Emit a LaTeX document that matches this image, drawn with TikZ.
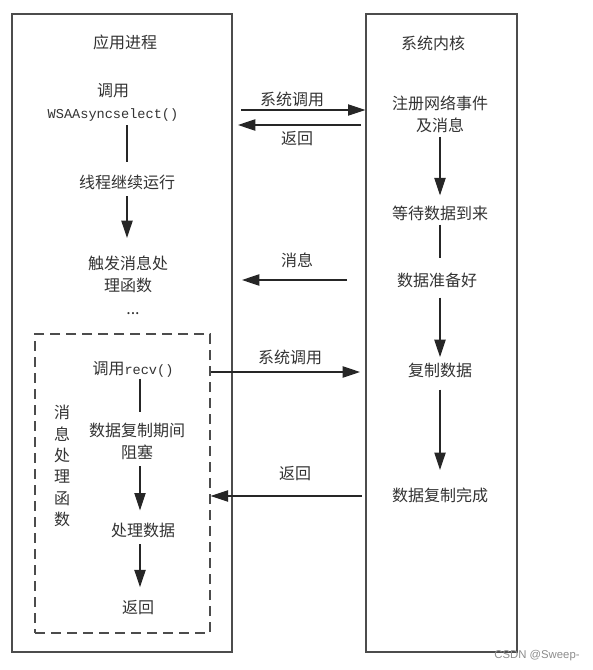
\documentclass[tikz,border=0pt]{standalone}
\usepackage{fontspec}
\usetikzlibrary{arrows.meta}
\newfontfamily\cjk{Noto Sans CJK SC}
\newfontfamily\mono{Liberation Mono}
\newfontfamily\wmark{Liberation Sans}
\newcommand\codetxt[1]{{\mono\fontsize{10.2}{16.5}\selectfont #1}}

\begin{document}
\begin{tikzpicture}[x=0.75pt, y=-0.75pt,
    box/.style={draw=black!70, line width=1pt, inner sep=0pt},
    dashbox/.style={box, dash pattern=on 7.5pt off 4.5pt},
    txt/.style={font=\cjk\fontsize{12}{16.5}\selectfont, text=black!80, align=center, inner sep=0pt},
    flow/.style={draw=black!85, line width=0.8pt, -{Triangle[length=13pt,width=8.5pt]}},
    link/.style={draw=black!85, line width=0.8pt}]
\useasboundingbox (0,0) rectangle (592,670);

% frames
\node[box, minimum width=165pt, minimum height=478.5pt] (app) at (122,333) {};
\node[box, minimum width=113.25pt, minimum height=478.5pt] (kern) at (441.5,333) {};
\node[dashbox, minimum width=131.25pt, minimum height=224.25pt] (handler) at (122.5,483.5) {};

% application process
\node[txt] (apptitle) at (125,42) {应用进程};
\node[txt] (call) at (113,102) {调用\\\codetxt{WSAAsyncselect()}};
\node[txt] (run) at (127,182) {线程继续运行};
\node[txt] (trig) at (128,274) {触发消息处\\理函数};
\node[txt] (dots) at (133,314) {...};

% message handler
\coordinate (hx) at (140,0);
\node[txt] (recv) at (133,369) {调用\codetxt{recv()}};
\node[txt] (block) at (137,441) {数据复制期间\\阻塞};
\node[txt] (proc) at (143,530) {处理数据};
\node[txt] (ret) at (138,608) {返回};
\node[txt, font=\cjk\fontsize{12}{16}\selectfont] (hname) at (62,466) {消\\息\\处\\理\\函\\数};

% kernel
\node[txt] (kerntitle) at (433,43) {系统内核};
\node[txt] (reg) at (440,114) {注册网络事件\\及消息};
\node[txt] (wait) at (440,213) {等待数据到来};
\node[txt] (ready) at (437,280) {数据准备好};
\node[txt] (copy) at (440,370) {复制数据};
\node[txt] (done) at (440,495) {数据复制完成};

% flow in the columns
\draw[link, shorten <=3pt, shorten >=9pt] (call.south -| run) -- (run.north);
\draw[flow, shorten <=5pt, shorten >=13pt] (run.south) -- (run.south |- trig.north);
\draw[link, shorten <=1pt, shorten >=7.5pt] (recv.south -| hx) -- (block.north -| hx);
\draw[flow, shorten <=5pt, shorten >=9pt] (block.south -| hx) -- (proc.north -| hx);
\draw[flow, shorten <=5pt, shorten >=10pt] (proc.south -| hx) -- (ret.north -| hx);
\draw[flow, shorten <=3pt, shorten >=7.5pt] (reg.south) -- (wait.north);
\draw[link, shorten <=3pt, shorten >=11pt] (wait.south) -- (wait.south |- ready.north);
\draw[flow, shorten <=7.5pt, shorten >=4pt] (ready.south -| copy) -- (copy.north);
\draw[flow, shorten <=9pt, shorten >=13pt] (copy.south) -- (done.north);

% calls between process and kernel
\coordinate (c1) at (241,110);
\coordinate (r1a) at (361,125);
\coordinate (r1b) at (238,125);
\coordinate (m1a) at (347,280);
\coordinate (m1b) at (242,280);
\coordinate (c2) at (360,372);
\coordinate (r2) at (362,496);
\draw[flow] (c1) -- (c1 -| kern.west);
\draw[flow] (r1a) -- (r1b);
\draw[flow] (m1a) -- (m1b);
\draw[flow] (c2 -| handler.east) -- (c2);
\draw[flow] (r2) -- (r2 -| handler.east);
\node[txt] (lcall1) at (292,99) {系统调用};
\node[txt] (lret1) at (297,139) {返回};
\node[txt] (lmsg) at (297,260) {消息};
\node[txt] (lcall2) at (290,357) {系统调用};
\node[txt] (lret2) at (295,474) {返回};

\node[font=\wmark\fontsize{8.5}{10}\selectfont, text=black!45, inner sep=0pt] (mark) at (537,656) {CSDN @Sweep-};
\end{tikzpicture}
\end{document}
